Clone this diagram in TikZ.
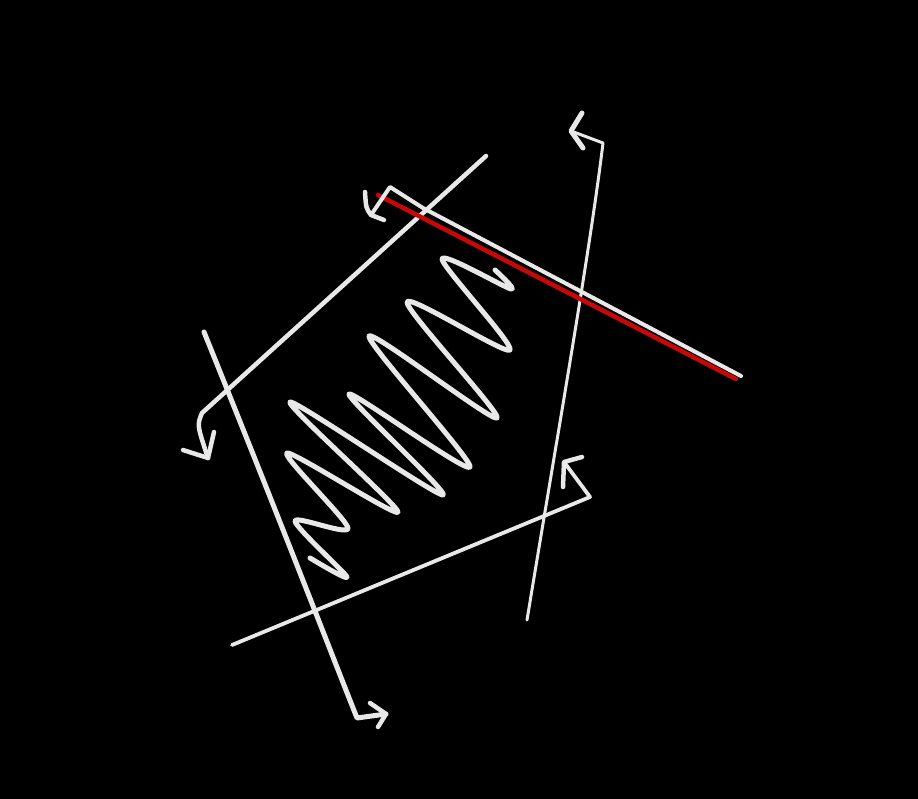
\documentclass[tikz,border=0pt]{standalone}
\begin{document}
\begin{tikzpicture}[x=1pt,y=-1pt,line cap=round,line join=round,
  ink/.style={draw=inkc,line width=#1},
  redstroke/.style={draw=redc,line width=#1}]
\definecolor{inkc}{RGB}{232,232,232}
\definecolor{redc}{RGB}{200,8,8}
\fill[black] (0,0) rectangle (918,799);
\useasboundingbox (0,0) rectangle (918,799);
% arrow 1: diagonal line to lower-left, hook down
\coordinate (a1s) at (486,156);
\coordinate (a1c) at (202,413);
\coordinate (a1t) at (208,458);
\coordinate (a1b1) at (183,450);
\coordinate (a1b2) at (214,432);
\draw[ink=4.5] (a1s) -- (a1c) .. controls (197,425) .. (a1t);
\draw[ink=4.5] (a1b1) -- (a1t) -- (a1b2);
% arrow 2: left steep line, arrow to the right at bottom
\coordinate (a2s) at (204,332);
\coordinate (a2c) at (357,718);
\coordinate (a2t) at (386,714);
\coordinate (a2b1) at (370,703);
\coordinate (a2b2) at (378,727);
\draw[ink=5] (a2s) .. controls (280,520) and (330,650) .. (a2c) -- (a2t);
\draw[ink=4.5] (a2b1) -- (a2t) -- (a2b2);
% arrow 3: bottom line, arrow back up-left
\coordinate (a3s) at (232,645);
\coordinate (a3c) at (590,497);
\coordinate (a3t) at (564,462);
\coordinate (a3b1) at (563,487);
\coordinate (a3b2) at (582,457);
\draw[ink=3.8] (a3s) -- (a3c) -- (a3t);
\draw[ink=4.5] (a3b1) -- (a3t) -- (a3b2);
% arrow 4: right tall line, arrow to the left at top
\coordinate (a4s) at (527,620);
\coordinate (a4c) at (603,143);
\coordinate (a4t) at (571,131);
\coordinate (a4b1) at (582,113);
\coordinate (a4b2) at (583,148);
\draw[ink=3] (a4s) .. controls (560,420) and (590,250) .. (a4c) -- (a4t);
\draw[ink=5] (a4b1) -- (a4t) -- (a4b2);
% arrow 5: red line with white overlay
\coordinate (r5s) at (736,379);
\coordinate (r5e) at (378,195);
\coordinate (a5s) at (741,376);
\coordinate (a5c) at (390,187);
\coordinate (a5t) at (371,215);
\coordinate (a5b1) at (365,192);
\coordinate (a5b2) at (384,220);
\draw[redstroke=4.5] (r5s) -- (r5e);
\draw[ink=4] (a5s) -- (423,208) -- (a5c) -- (a5t);
\draw[ink=4.5] (a5b1) .. controls (366,208) .. (a5t) -- (a5b2);
% squiggle
\draw[ink=5] plot[smooth,tension=0.45] coordinates {
 (310,558) (347,577) (295,521) (348,528) (287,453) (398,512)
 (290,402) (443,495) (349,394) (470,467) (369,336) (497,418)
 (407,302) (510,350) (442,259) (511,289) (495,270)};
\end{tikzpicture}
\end{document}
